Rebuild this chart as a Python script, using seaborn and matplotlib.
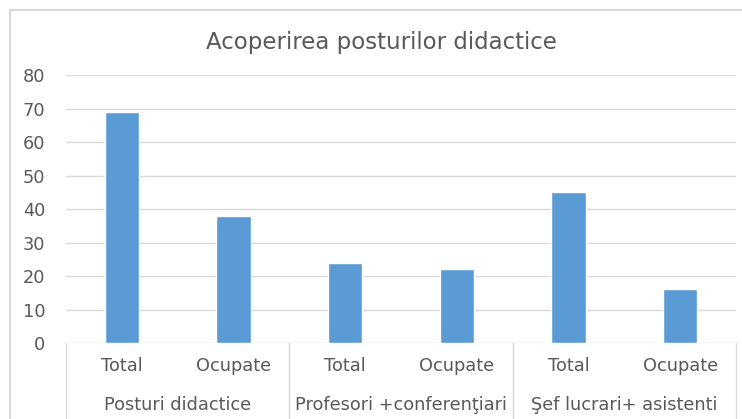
import matplotlib
matplotlib.use("Agg")
import matplotlib.pyplot as plt
import matplotlib.transforms as mtransforms
from matplotlib.patches import Rectangle
import seaborn as sns
import pandas as pd

groups = ["Posturi didactice", "Profesori +conferenţiari", "Şef lucrari+ asistenti"]
sub_labels = ["Total", "Ocupate"]
values = [69, 38, 24, 22, 45, 16]
yticks = [0, 10, 20, 30, 40, 50, 60, 70, 80]
title = "Acoperirea posturilor didactice"

keys = [f"{g}|{s}" for g in groups for s in sub_labels]
df = pd.DataFrame({"key": keys, "value": values})

sns.set_theme(style="white")
plt.rcParams["font.family"] = ["DejaVu Sans"]

text_color = "#595959"
fs = 12.8
fig = plt.figure(figsize=(7.42, 4.19), dpi=100)
ax = fig.add_axes([66 / 742, 1 - 343 / 419, 670 / 742, (343 - 75) / 419])

sns.barplot(data=df, x="key", y="value", order=keys, color="#5B9BD5",
            width=0.31, saturation=1, ax=ax)

ax.set_ylim(0, 80)
ax.set_xlim(-0.5, len(keys) - 0.5)
ax.set_yticks(yticks)
ax.set_yticklabels([str(v) for v in yticks], color=text_color, fontsize=fs)
ax.set_xticks(range(len(keys)))
ax.set_xticklabels([k.split("|")[1] for k in keys], color=text_color, fontsize=fs)
ax.tick_params(axis="y", length=0, pad=15)
ax.tick_params(axis="x", length=0, pad=10)
ax.set_xlabel("")
ax.set_ylabel("")
for sp in ax.spines.values():
    sp.set_visible(False)
ax.yaxis.grid(True, color="#d9d9d9", linewidth=1)
ax.set_axisbelow(True)

trans = mtransforms.blended_transform_factory(ax.transData, ax.transAxes)
for i, g in enumerate(groups):
    ax.text(2 * i + 0.5, -0.232, g, transform=trans, ha="center", va="center",
            color=text_color, fontsize=fs)
for b in range(len(groups) + 1):
    ax.plot([2 * b - 0.5, 2 * b - 0.5], [0, -0.3], transform=trans,
            color="#d9d9d9", linewidth=1, clip_on=False)

fig.text(381 / 742, 1 - 42 / 419, title, ha="center", va="center",
         color=text_color, fontsize=16.5)

fig.patches.append(Rectangle((10 / 742, -0.1), 1.0, 1 - 10 / 419 + 0.1,
                             transform=fig.transFigure, fill=False,
                             edgecolor="#d9d9d9", linewidth=1.5))

fig.savefig("out.png", dpi=100)
